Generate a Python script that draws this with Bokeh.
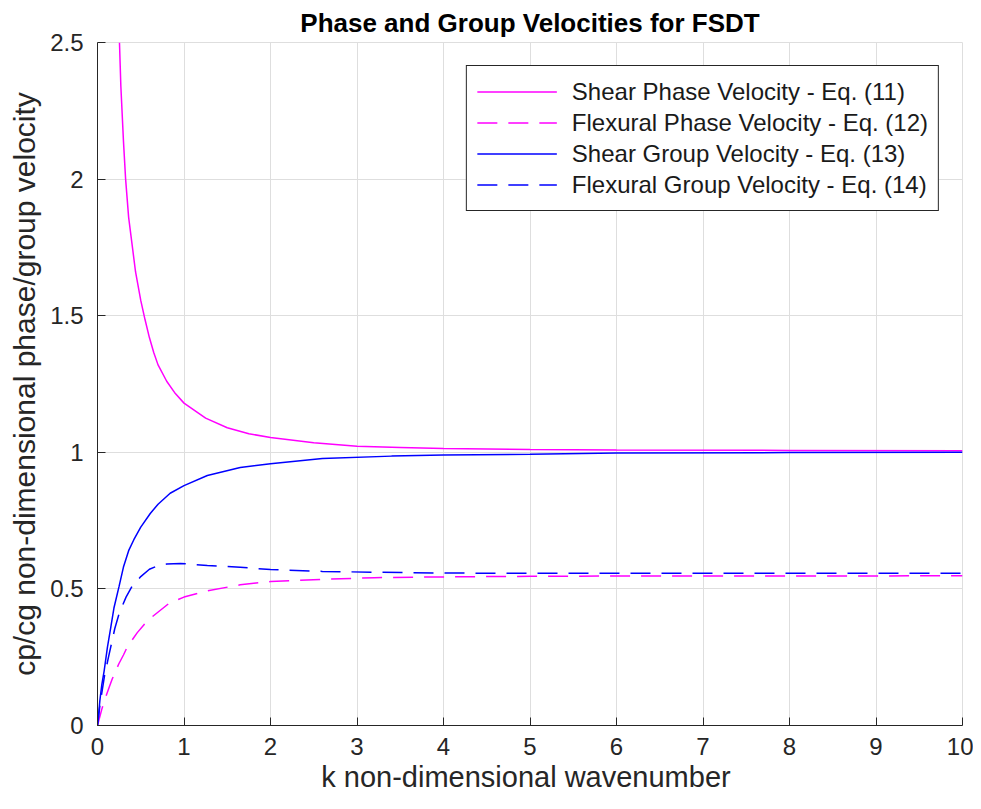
from bokeh.plotting import figure
from bokeh.models import Range1d, FixedTicker, Legend, LegendItem
from bokeh.embed import file_html
from bokeh.resources import INLINE

# ---- data ----
k_shear_phase = [0.254, 0.27, 0.30, 0.325, 0.36, 0.40, 0.44, 0.50, 0.55, 0.60, 0.65, 0.70, 0.80, 0.90,
                 1.0, 1.25, 1.5, 1.75, 2.0, 2.5, 3.0, 3.5, 4.0, 5.0, 6.0, 8.0, 10.0]
v_shear_phase = [2.5, 2.34, 2.14, 2.0, 1.86, 1.76, 1.66, 1.556, 1.485, 1.42, 1.365, 1.32, 1.26, 1.215,
                 1.18, 1.125, 1.09, 1.068, 1.054, 1.035, 1.022, 1.018, 1.014, 1.010, 1.008, 1.007, 1.006]

k_flex_phase = [0.0, 0.05, 0.09, 0.135, 0.17, 0.247, 0.30, 0.343, 0.46, 0.54, 0.64, 0.83, 1.0,
                1.27, 1.65, 2.0, 2.6, 3.2, 4.0, 5.0, 6.0, 8.0, 10.0]
v_flex_phase = [0.0, 0.06, 0.10, 0.14, 0.17, 0.226, 0.258, 0.287, 0.34, 0.37, 0.40, 0.448, 0.47,
                0.493, 0.515, 0.527, 0.535, 0.541, 0.544, 0.546, 0.547, 0.547, 0.548]

k_shear_group = [0.0, 0.01, 0.027, 0.05, 0.077, 0.115, 0.154, 0.19, 0.25, 0.30, 0.36, 0.42, 0.50,
                 0.61, 0.70, 0.84, 1.0, 1.27, 1.65, 2.0, 2.6, 3.4, 4.0, 5.0, 6.0, 8.0, 10.0]
v_shear_group = [0.0, 0.03, 0.09, 0.15, 0.20, 0.287, 0.36, 0.43, 0.51, 0.58, 0.64, 0.68, 0.726,
                 0.776, 0.81, 0.85, 0.878, 0.915, 0.944, 0.958, 0.977, 0.986, 0.990, 0.993, 0.997, 0.999, 1.0]

k_flex_group = [0.0, 0.03, 0.08, 0.127, 0.20, 0.25, 0.33, 0.40, 0.50, 0.60, 0.70, 0.80, 0.96,
                1.27, 1.65, 2.0, 2.6, 3.2, 4.0, 5.0, 6.0, 8.0, 10.0]
v_flex_group = [0.0, 0.08, 0.18, 0.25, 0.355, 0.41, 0.47, 0.51, 0.545, 0.572, 0.585, 0.591, 0.593,
                0.586, 0.579, 0.571, 0.564, 0.561, 0.558, 0.557, 0.557, 0.557, 0.557]

series_labels = ["Shear Phase Velocity - Eq. (11)", "Flexural Phase Velocity - Eq. (12)",
                 "Shear Group Velocity - Eq. (13)", "Flexural Group Velocity - Eq. (14)"]

x_ticks = [0, 1, 2, 3, 4, 5, 6, 7, 8, 9, 10]
y_ticks = [0, 0.5, 1, 1.5, 2, 2.5]
y_tick_labels = ["0", "0.5", "1", "1.5", "2", "2.5"]

title_text = "Phase and Group Velocities for FSDT"
x_label = "k  non-dimensional wavenumber"
y_label = "cp/cg non-dimensional phase/group velocity"

FONT = "Liberation Sans"
TXT = "#262626"

p = figure(width=973, height=801, x_range=Range1d(0, 10), y_range=Range1d(0, 2.5),
           output_backend="svg", toolbar_location=None,
           min_border_left=97, min_border_right=11, min_border_top=42, min_border_bottom=76)

p.title.text = title_text
p.title.align = "center"
p.title.text_font = FONT
p.title.text_font_size = "26px"
p.title.text_font_style = "bold"
p.title.text_color = "#000000"
p.title.standoff = 9

p.outline_line_color = "#dedede"
p.background_fill_color = "white"
p.border_fill_color = "white"

for ax in (p.xaxis[0], p.yaxis[0]):
    ax.axis_line_color = TXT
    ax.axis_line_width = 1
    ax.major_tick_line_color = TXT
    ax.major_tick_in = 8
    ax.major_tick_out = 0
    ax.minor_tick_line_color = None
    ax.major_label_text_font = FONT
    ax.major_label_text_font_size = "24px"
    ax.major_label_text_color = TXT
    ax.axis_label_text_font = FONT
    ax.axis_label_text_font_style = "normal"
    ax.axis_label_text_color = TXT

p.xaxis.ticker = FixedTicker(ticks=x_ticks)
p.yaxis.ticker = FixedTicker(ticks=y_ticks)
p.yaxis.major_label_overrides = {t: s for t, s in zip(y_ticks, y_tick_labels)}
p.xaxis.major_label_overrides = {t: str(t) for t in x_ticks}
p.xaxis.major_label_standoff = 12
p.yaxis.major_label_standoff = 14
p.xaxis.axis_label = x_label
p.yaxis.axis_label = y_label
p.xaxis.axis_label_text_font_size = "29px"
p.yaxis.axis_label_text_font_size = "30px"
p.xaxis.axis_label_standoff = 3
p.yaxis.axis_label_standoff = 6

p.grid.grid_line_color = "#dedede"
p.grid.grid_line_width = 1

MAG = "#ff00ff"
BLU = "#0000ff"
DASH = "20 11"

r1 = p.line(k_shear_phase, v_shear_phase, line_color=MAG, line_width=1.5)
r2 = p.line(k_flex_phase, v_flex_phase, line_color=MAG, line_width=1.5, line_dash=DASH)
r3 = p.line(k_shear_group, v_shear_group, line_color=BLU, line_width=1.5)
r4 = p.line(k_flex_group, v_flex_group, line_color=BLU, line_width=1.5, line_dash=DASH)

legend = Legend(items=[LegendItem(label=l, renderers=[r]) for l, r in zip(series_labels, [r1, r2, r3, r4])],
                location="top_right", margin=23, padding=10, spacing=0,
                glyph_width=80, glyph_height=31, label_height=31, label_standoff=15,
                label_text_font=FONT, label_text_font_size="24px", label_text_color="#1a1a1a",
                border_line_color="#262626", border_line_width=1, border_line_alpha=1,
                background_fill_color="white", background_fill_alpha=1)
p.add_layout(legend, "center")

open("out.html", "w").write(file_html(p, INLINE))
